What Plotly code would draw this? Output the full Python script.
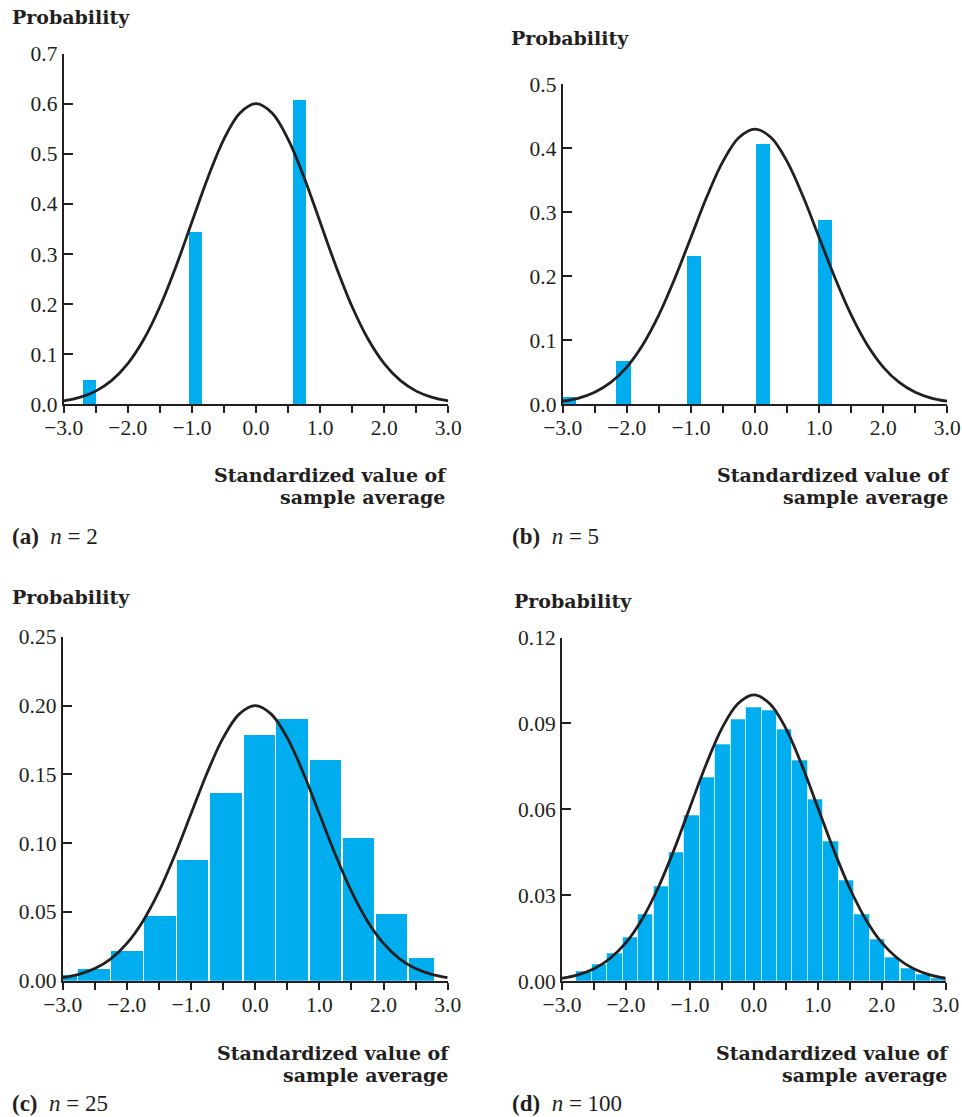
import plotly.graph_objects as go

# ---------------- data ----------------
curve_x = [-3.0, -2.75, -2.5, -2.25, -2.0, -1.75, -1.5, -1.25, -1.0, -0.75, -0.5, -0.25, 0.0,
           0.25, 0.5, 0.75, 1.0, 1.25, 1.5, 1.75, 2.0, 2.25, 2.5, 2.75, 3.0]

# (a) n = 2
a_x = [-2.6, -0.945, 0.68]
a_w = [0.195, 0.195, 0.2]
a_p = [0.050, 0.344, 0.609]
a_curve = [0.0067, 0.0137, 0.0263, 0.0477, 0.0812, 0.1298, 0.1948, 0.2747, 0.3639, 0.4529, 0.5295, 0.5815, 0.600,
           0.5815, 0.5295, 0.4529, 0.3639, 0.2747, 0.1948, 0.1298, 0.0812, 0.0477, 0.0263, 0.0137, 0.0067]
a_yticks = [0.0, 0.1, 0.2, 0.3, 0.4, 0.5, 0.6, 0.7]
a_ytext = ["0.0", "0.1", "0.2", "0.3", "0.4", "0.5", "0.6", "0.7"]

# (b) n = 5
b_x = [-2.9, -2.055, -0.955, 0.12, 1.085]
b_w = [0.2, 0.23, 0.23, 0.22, 0.21]
b_p = [0.011, 0.067, 0.231, 0.406, 0.287]
b_curve = [0.0048, 0.0098, 0.0189, 0.0342, 0.0582, 0.0930, 0.1396, 0.1969, 0.2608, 0.3246, 0.3795, 0.4168, 0.430,
           0.4168, 0.3795, 0.3246, 0.2608, 0.1969, 0.1396, 0.0930, 0.0582, 0.0342, 0.0189, 0.0098, 0.0048]
b_yticks = [0.0, 0.1, 0.2, 0.3, 0.4, 0.5]
b_ytext = ["0.0", "0.1", "0.2", "0.3", "0.4", "0.5"]

# (c) n = 25
c_x = [-3.025, -2.514, -2.005, -1.49, -0.978, -0.46, 0.058, 0.572, 1.087, 1.604, 2.122, 2.585]
c_w = [0.49, 0.49, 0.49, 0.49, 0.49, 0.49, 0.49, 0.49, 0.49, 0.49, 0.49, 0.385]
c_p = [0.0040, 0.0087, 0.0217, 0.0470, 0.0876, 0.1368, 0.1788, 0.1901, 0.1609, 0.1037, 0.0485, 0.0168]
c_curve = [0.0022, 0.0046, 0.0088, 0.0159, 0.0271, 0.0433, 0.0649, 0.0916, 0.1213, 0.1510, 0.1765, 0.1938, 0.200,
           0.1938, 0.1765, 0.1510, 0.1213, 0.0916, 0.0649, 0.0433, 0.0271, 0.0159, 0.0088, 0.0046, 0.0022]
c_yticks = [0.0, 0.05, 0.10, 0.15, 0.20, 0.25]
c_ytext = ["0.00", "0.05", "0.10", "0.15", "0.20", "0.25"]

# (d) n = 100
d_x = [-2.655, -2.414, -2.172, -1.931, -1.690, -1.448, -1.207, -0.966, -0.724, -0.483, -0.241, 0.0,
       0.241, 0.483, 0.724, 0.966, 1.207, 1.448, 1.690, 1.931, 2.172, 2.414, 2.655, 2.897]
d_w = [0.2414] * 24
d_p = [0.0034, 0.0060, 0.0097, 0.0154, 0.0232, 0.0330, 0.0449, 0.0579, 0.0711, 0.0828, 0.0914, 0.0957,
       0.0945, 0.0878, 0.0770, 0.0635, 0.0488, 0.0352, 0.0234, 0.0145, 0.0083, 0.0044, 0.0024, 0.0010]
d_curve = [0.0011, 0.0023, 0.0044, 0.0080, 0.0135, 0.0216, 0.0325, 0.0458, 0.0607, 0.0755, 0.0883, 0.0969, 0.100,
           0.0969, 0.0883, 0.0755, 0.0607, 0.0458, 0.0325, 0.0216, 0.0135, 0.0080, 0.0044, 0.0023, 0.0011]
d_yticks = [0.0, 0.03, 0.06, 0.09, 0.12]
d_ytext = ["0.00", "0.03", "0.06", "0.09", "0.12"]

x_tickvals = [-3.0, -2.5, -2.0, -1.5, -1.0, -0.5, 0.0, 0.5, 1.0, 1.5, 2.0, 2.5, 3.0]
x_ticktext = ["\u22123.0", "", "\u22122.0", "", "\u22121.0", "", "0.0", "", "1.0", "", "2.0", "", "3.0"]

panel_letters = ["(a)", "(b)", "(c)", "(d)"]
panel_n = ["2", "5", "25", "100"]
y_title = "Probability"
x_title_lines = ["Standardized value of", "sample average"]

# ---------------- layout geometry (pixels) ----------------
W, H = 962, 1117
INK = "#231f20"
CYAN = "#00aeef"
SERIF = "Liberation Serif, Times New Roman, serif"
BOLD_SERIF = "DejaVu Serif, serif"

def px_x(p):
    return p / W

def px_y(p):
    return 1 - p / H

panels = [
    dict(x=a_x, w=a_w, p=a_p, curve=a_curve, yt=a_yticks, ytt=a_ytext, yr=[0, 0.7],
         dom=(63.7, 448.3, 53.6, 404.3), ytitle=(10, 17), xt_right=449, xt_y=486.5, cap=(10, 536), line=None),
    dict(x=b_x, w=b_w, p=b_p, curve=b_curve, yt=b_yticks, ytt=b_ytext, yr=[0, 0.5],
         dom=(562.7, 947.3, 84.3, 404.3), ytitle=(509, 38), xt_right=952, xt_y=486.5, cap=(510, 536), line=None),
    dict(x=c_x, w=c_w, p=c_p, curve=c_curve, yt=c_yticks, ytt=c_ytext, yr=[0, 0.25],
         dom=(62.7, 447.7, 636.8, 980.7), ytitle=(10, 597), xt_right=452, xt_y=1064, cap=(10, 1103), line=None),
    dict(x=d_x, w=d_w, p=d_p, curve=d_curve, yt=d_yticks, ytt=d_ytext, yr=[0, 0.12],
         dom=(562, 945.7, 637.5, 981.4), ytitle=(512, 601), xt_right=951, xt_y=1064, cap=(510, 1103),
         line=dict(color="rgba(255,255,255,0.55)", width=1)),
]

fig = go.Figure()
annotations = []
layout_axes = {}

for i, pn in enumerate(panels):
    k = "" if i == 0 else str(i + 1)
    xa, ya = "x" + k, "y" + k
    fig.add_trace(go.Bar(
        x=pn["x"], y=pn["p"], width=pn["w"], xaxis=xa, yaxis=ya,
        marker=dict(color=CYAN, line=pn["line"] if pn["line"] else dict(width=0)),
        showlegend=False, hoverinfo="skip"))
    fig.add_trace(go.Scatter(
        x=curve_x, y=pn["curve"], xaxis=xa, yaxis=ya, mode="lines",
        line=dict(color=INK, width=2.8, shape="spline", smoothing=1.0),
        showlegend=False, hoverinfo="skip", cliponaxis=False))
    x0, x1, yt, yb = pn["dom"]
    layout_axes["xaxis" + k] = dict(
        domain=[px_x(x0), px_x(x1)], range=[-3, 3], anchor=ya, automargin=False,
        tickmode="array", tickvals=x_tickvals, ticktext=x_ticktext,
        ticks="outside", ticklen=7, tickwidth=1.6, tickcolor=INK, ticklabelstandoff=-4,
        showline=True, linecolor=INK, linewidth=2, showgrid=False, zeroline=False,
        tickfont=dict(family=SERIF, size=21.5, color=INK), fixedrange=True)
    layout_axes["yaxis" + k] = dict(
        domain=[px_y(yb), px_y(yt)], range=pn["yr"], anchor=xa, automargin=False,
        tickmode="array", tickvals=pn["yt"], ticktext=pn["ytt"],
        ticks="inside", ticklen=9, tickwidth=1.6, tickcolor=INK,
        showline=True, linecolor=INK, linewidth=2, showgrid=False, zeroline=False,
        tickfont=dict(family=SERIF, size=21.5, color=INK), fixedrange=True)
    tx, ty = pn["ytitle"]
    annotations.append(dict(
        text="<b>" + y_title + "</b>", xref="paper", yref="paper",
        x=px_x(tx), y=px_y(ty), xanchor="left", yanchor="middle", showarrow=False,
        font=dict(family=BOLD_SERIF, size=19, color=INK)))
    xt_text = "<br>".join(
        "<span style='font-size:19px'><b>" + s + "</b></span>" for s in x_title_lines)
    annotations.append(dict(
        text=xt_text, xref="paper", yref="paper", align="right",
        x=px_x(pn["xt_right"]), y=px_y(pn["xt_y"]), xanchor="right", yanchor="middle", showarrow=False,
        font=dict(family=BOLD_SERIF, size=17.3, color=INK)))
    cx, cy = pn["cap"]
    annotations.append(dict(
        text="<b>" + panel_letters[i] + "</b>  <i>n</i> = " + panel_n[i], xref="paper", yref="paper",
        x=px_x(cx), y=px_y(cy), xanchor="left", yanchor="middle", showarrow=False,
        font=dict(family=SERIF, size=23, color=INK)))

fig.update_layout(
    width=W, height=H, margin=dict(l=0, r=0, t=0, b=0, autoexpand=False),
    paper_bgcolor="white", plot_bgcolor="white", bargap=0,
    annotations=annotations, **layout_axes)

fig.write_html("out.html")
